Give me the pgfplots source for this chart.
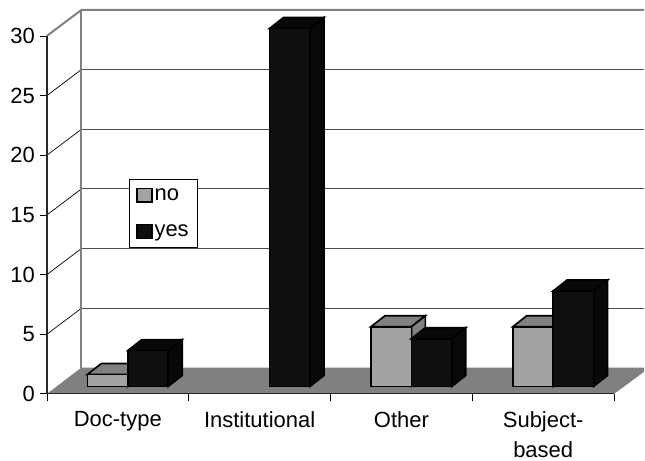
\documentclass[border=0pt]{standalone}
\usepackage{fontspec}
\setmainfont{Liberation Sans}
\usepackage{pgfplots}
\pgfplotsset{compat=1.18}

\definecolor{floorgray}{gray}{0.5}
\definecolor{barno}{gray}{0.64}
\definecolor{baryes}{gray}{0.06}
\definecolor{sideyes}{gray}{0.03}
\definecolor{gridc}{gray}{0.3}

% depth faces of a bar: left edge, value, colour for top and side
\newcommand{\barside}[3]{
  \addplot[forget plot, fill=#3, draw=black, line width=1.7pt, xshift=0.5pt, yshift=7.5pt]
    coordinates {(#1,#2) ({#1+0.0986},{#2+0.92}) ({#1+0.3836},{#2+0.92}) ({#1+0.285},#2)} --cycle;
  \addplot[forget plot, fill=#3, draw=black, line width=1.7pt, xshift=0.5pt, yshift=7.5pt]
    coordinates {({#1+0.285},0) ({#1+0.3836},0.92) ({#1+0.3836},{#2+0.92}) ({#1+0.285},#2)} --cycle;
}
% back wall gridline with its diagonal on the side wall
\newcommand{\wallgrid}[1]{
  \addplot[forget plot, black, line width=0.7pt] coordinates {(0,#1) (0.243,{#1+2.176})};
  \addplot[forget plot, gridc, line width=1pt] coordinates {(0.243,{#1+2.176}) (4.211,{#1+2.176})};
}

\begin{document}
\begin{tikzpicture}
\begin{axis}[
    scale only axis,
    width=568pt,
    height=358.5pt,
    xmin=0, xmax=4,
    ymin=0, ymax=30,
    clip=false,
    axis on top,
    axis x line*=bottom,
    axis y line*=left,
    axis line style={-, line width=1.2pt, color=black!85},
    xtick={0,1,2,3,4},
    x tick label as interval,
    xticklabels={Doc-type, Institutional, Other, Subject-\\based},
    ytick={0,5,...,30},
    tick align=outside,
    major tick length=7pt,
    tick style={line width=0.8pt, black},
    tick label style={font=\fontsize{22}{30}\selectfont},
    xticklabel style={align=center, yshift=-7pt},
    yticklabel style={xshift=-1.5pt},
    /pgf/number format/assume math mode=true,
    legend style={
        at={(0.1444,0.5997)}, anchor=north west,
        draw=black, line width=0.7pt, fill=white,
        font=\fontsize{22}{25}\selectfont,
        row sep=19pt, inner xsep=7pt, inner ysep=7pt,
        nodes={inner xsep=2pt},
    },
    legend cell align=left,
]
% page extent
\path (axis cs:-0.331,33.01) rectangle (axis cs:4.211,-5.397);

% walls
\wallgrid{5}
\wallgrid{10}
\wallgrid{15}
\wallgrid{20}
\wallgrid{25}
\addplot[forget plot, floorgray, line width=2pt] coordinates {(0,30) (0.243,32.176) (4.211,32.176)};
\addplot[forget plot, floorgray, line width=2.2pt] coordinates {(0.243,2.2) (0.243,32.176)};
% floor
\addplot[forget plot, fill=floorgray, draw=none] coordinates {(0,0) (4,0) (4.211,1.85) (4.211,2.2) (0.243,2.2)} --cycle;

% series no
\barside{0.282}{1}{floorgray}
\barside{2.282}{5}{floorgray}
\barside{3.282}{5}{floorgray}
\addplot[forget plot, ybar, bar width=40.5pt, bar shift=-20.25pt, xshift=10pt, yshift=7.5pt,
    fill=barno, draw=black, line width=1.7pt]
    coordinates {(0.5,1) (2.5,5) (3.5,5)};

% series yes
\barside{0.567}{3}{sideyes}
\barside{1.567}{30}{sideyes}
\barside{2.567}{4}{sideyes}
\barside{3.567}{8}{sideyes}
\addplot[forget plot, ybar, bar width=40.5pt, bar shift=20.25pt, xshift=10pt, yshift=7.5pt,
    fill=baryes, draw=black, line width=1.7pt]
    coordinates {(0.5,3) (1.5,30) (2.5,4) (3.5,8)};

\addlegendimage{legend image code/.code={\draw[fill=barno, draw=black, line width=1.4pt] (0pt,-7pt) rectangle (15pt,7pt);}}
\addlegendimage{legend image code/.code={\draw[fill=baryes, draw=black, line width=1.4pt] (0pt,-7pt) rectangle (15pt,7pt);}}
\legend{no, yes}
\end{axis}
\end{tikzpicture}
\end{document}
